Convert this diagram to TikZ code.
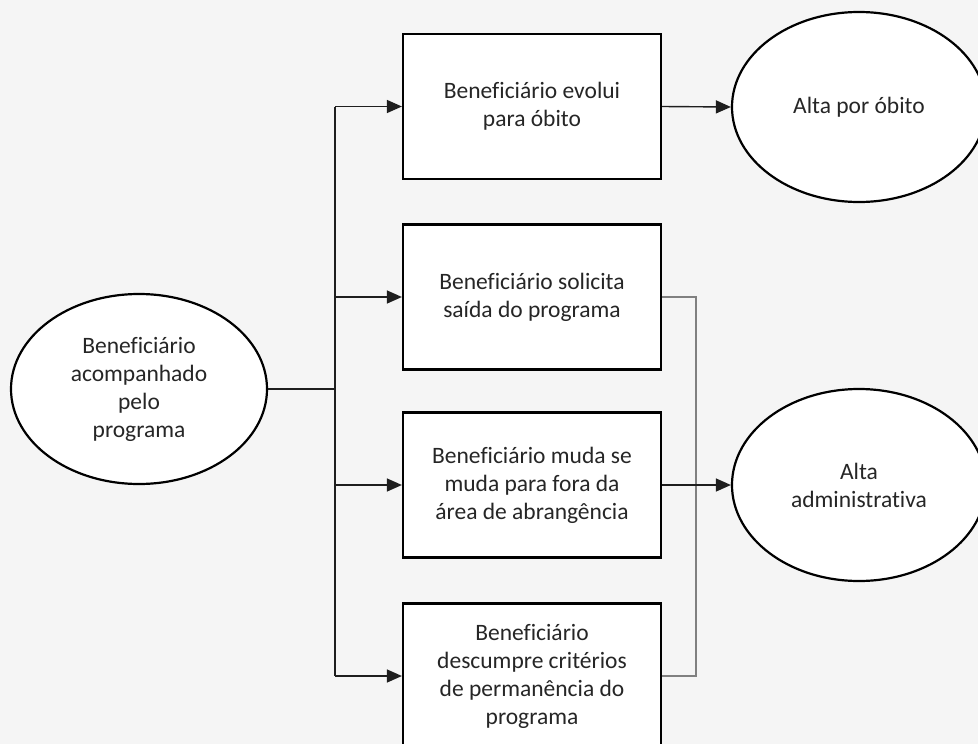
\documentclass[tikz,border=0pt]{standalone}
\usepackage{fontspec}
\setmainfont{Carlito}[Ligatures=NoCommon]
\usetikzlibrary{shapes.geometric,arrows.meta}
\definecolor{bgcol}{RGB}{245,245,245}
\definecolor{txtcol}{RGB}{38,38,38}
\definecolor{linecol}{RGB}{30,30,30}
\tikzset{
  stepbox/.style={draw=black,line width=2.2pt,fill=white,rectangle,minimum width=258pt,minimum height=145pt,inner sep=0pt,align=center,text=txtcol,font=\fontsize{23.5pt}{28pt}\selectfont},
  endoval/.style={draw=black,line width=2.2pt,fill=white,ellipse,minimum width=256pt,minimum height=190pt,inner sep=0pt,align=center,text=txtcol,font=\fontsize{23.5pt}{28pt}\selectfont},
  conn/.style={draw=linecol,line width=1.4pt},
  arr/.style={conn,-{Triangle[length=15pt,width=13pt]}},
  graylink/.style={draw=black!50,line width=1.4pt}
}
\begin{document}
\begin{tikzpicture}[x=1pt,y=-1pt]
\useasboundingbox (0,0) rectangle (978,744);
\clip (0,0) rectangle (978,744);
\fill[bgcol] (0,0) rectangle (978,744);
\node[endoval] (L) at (139,389) {Beneficiário\\acompanhado\\pelo\\programa};
\node[stepbox] (b1) at (532,106.5) {Beneficiário evolui\\para óbito};
\node[stepbox] (b2) at (532,297) {Beneficiário solicita\\saída do programa};
\node[stepbox] (b3) at (532,485) {Beneficiário muda se\\muda para fora da\\área de abrangência};
\node[stepbox] (b4) at (532,676) {Beneficiário\\descumpre critérios\\de permanência do\\programa};
\node[endoval,minimum width=254pt] (e1) at (859,107) {Alta por óbito};
\node[endoval,minimum width=254pt,minimum height=192pt] (e2) at (859,485) {Alta\\administrativa};
\coordinate (tj) at (335,389);
\coordinate (t1) at (335,106.5);
\coordinate (t4) at (335,676);
\coordinate (r2) at (696,297);
\coordinate (r4) at (696,676);
\draw[conn] (L.east) -- (tj);
\draw[conn] (t1) -- (t4);
\draw[arr] (t1) -- (b1.west);
\draw[arr] (tj |- b2.west) -- (b2.west);
\draw[arr] (tj |- b3.west) -- (b3.west);
\draw[arr] (t4) -- (b4.west);
\draw[graylink] (b2.east) -- (r2) -- (r4) -- (b4.east);
\draw[arr] (b1.east) -- (e1.west);
\draw[arr] (b3.east) -- (e2.west);
\end{tikzpicture}
\end{document}
